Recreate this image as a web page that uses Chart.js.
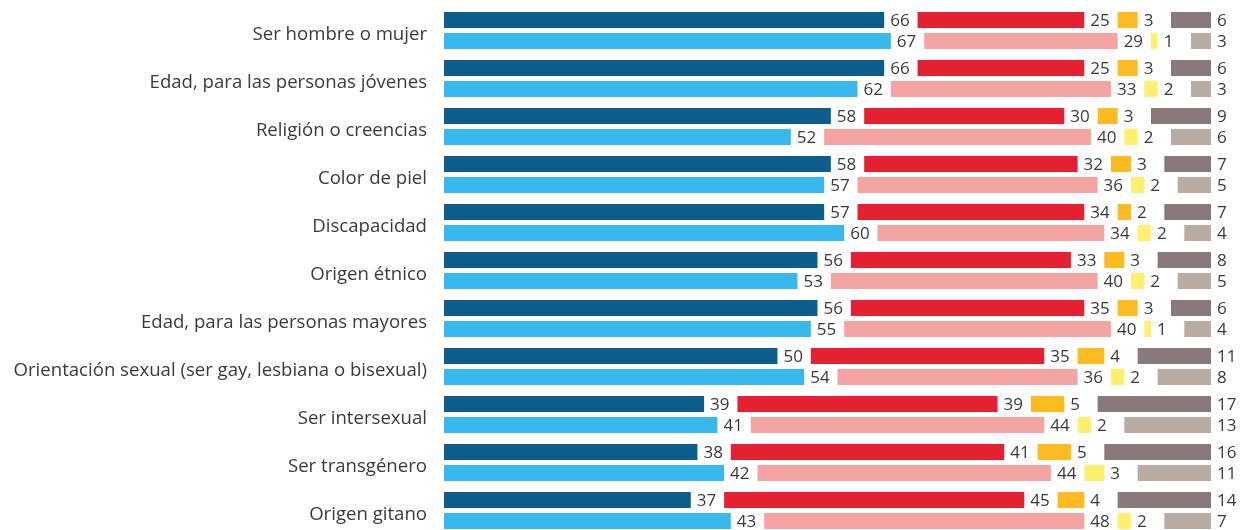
<!DOCTYPE html>
<html>
<head>
<meta charset="utf-8">
<script src="https://cdn.jsdelivr.net/npm/chart.js@4.4.1/dist/chart.umd.min.js"></script>
<style>
  html, body { margin: 0; padding: 0; background: #fff; overflow: hidden; }
  #wrap { width: 1243px; height: 536px; }
</style>
</head>
<body>
<div id="wrap"><canvas id="discChart"></canvas></div>
<script>
const categories = [
  "Ser hombre o mujer",
  "Edad, para las personas jóvenes",
  "Religión o creencias",
  "Color de piel",
  "Discapacidad",
  "Origen étnico",
  "Edad, para las personas mayores",
  "Orientación sexual (ser gay, lesbiana o bisexual)",
  "Ser intersexual",
  "Ser transgénero",
  "Origen gitano",
];

// first row of each pair (dark colours)
const extendidaA = [66, 66, 58, 58, 57, 56, 56, 50, 39, 38, 37];
const raraA = [25, 25, 30, 32, 34, 33, 35, 35, 39, 41, 45];
const inexistenteA = [3, 3, 3, 3, 2, 3, 3, 4, 5, 5, 4];
const nsncA = [6, 6, 9, 7, 7, 8, 6, 11, 17, 16, 14];

// second row of each pair (light colours)
const extendidaB = [67, 62, 52, 57, 60, 53, 55, 54, 41, 42, 43];
const raraB = [29, 33, 40, 36, 34, 40, 40, 36, 44, 44, 48];
const inexistenteB = [1, 2, 2, 2, 2, 2, 1, 2, 2, 3, 2];
const nsncB = [3, 3, 6, 5, 4, 5, 4, 8, 13, 11, 7];

// empty space left after each segment for its label
const GAP = 5;
const gapRow = categories.map(() => GAP);

function seg(data, color, stack) {
  return { data: data, backgroundColor: color, stack: stack, isGap: false };
}
function spacer(stack) {
  return { data: gapRow, backgroundColor: "rgba(0,0,0,0)", stack: stack, isGap: true };
}

const segmentLabels = {
  id: "segmentLabels",
  afterDatasetsDraw(chart) {
    const c = chart.ctx;
    c.save();
    c.font = "17px 'Open Sans'";
    c.fillStyle = "#3a3a3a";
    c.textAlign = "left";
    c.textBaseline = "middle";
    chart.data.datasets.forEach((ds, i) => {
      if (ds.isGap) return;
      chart.getDatasetMeta(i).data.forEach((bar, j) => {
        c.fillText(String(ds.data[j]), bar.x + 6, bar.y + 1);
      });
    });
    c.restore();
  },
};

const ctx = document.getElementById("discChart");
new Chart(ctx, {
  type: "bar",
  data: {
    labels: categories,
    datasets: [
      seg(extendidaA, "#0e5e8d", "a"),
      spacer("a"),
      seg(raraA, "#e42032", "a"),
      spacer("a"),
      seg(inexistenteA, "#fbbb21", "a"),
      spacer("a"),
      seg(nsncA, "#8a797b", "a"),
      seg(extendidaB, "#38b8ee", "b"),
      spacer("b"),
      seg(raraB, "#f5a4a1", "b"),
      spacer("b"),
      seg(inexistenteB, "#fff06b", "b"),
      spacer("b"),
      seg(nsncB, "#b9aaa2", "b"),
    ],
  },
  plugins: [segmentLabels],
  options: {
    indexAxis: "y",
    responsive: true,
    maintainAspectRatio: false,
    animation: false,
    categoryPercentage: 0.875,
    barPercentage: 0.762,
    layout: {
      padding: { top: 6.5, bottom: 1.5, left: 0, right: 32 },
    },
    scales: {
      x: {
        stacked: true,
        display: false,
        min: 0,
        max: 100 + 3 * GAP,
      },
      y: {
        stacked: true,
        grid: { display: false, drawTicks: false },
        border: { display: false },
        afterFit: function (scale) {
          scale.width = 444;
          scale.paddingTop = 0;
          scale.paddingBottom = 0;
        },
        ticks: {
          padding: 17,
          labelOffset: 4,
          color: "#3a3a3a",
          font: { family: "'Open Sans'", size: 18.6 },
        },
      },
    },
    plugins: {
      legend: { display: false },
      tooltip: { enabled: false },
    },
  },
});
</script>
</body>
</html>
